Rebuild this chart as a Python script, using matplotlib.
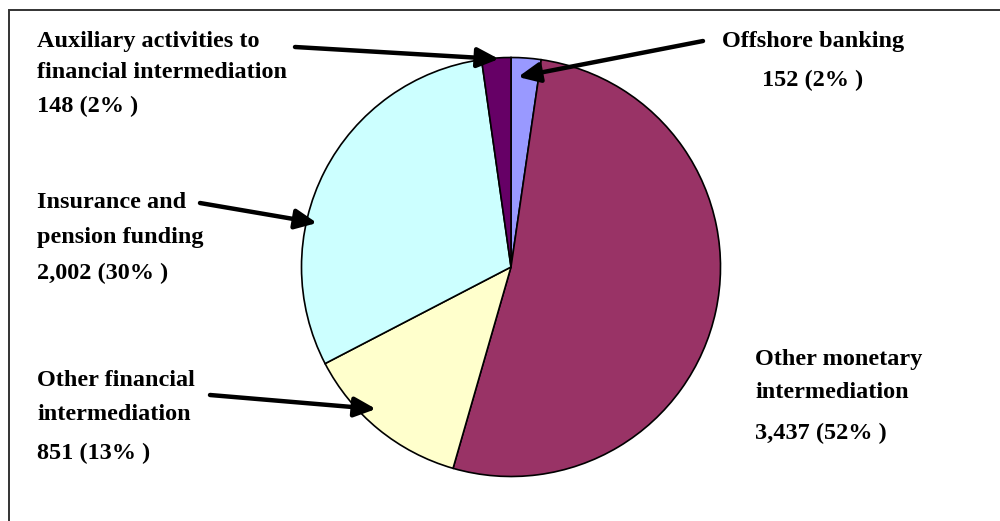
import matplotlib.pyplot as plt
from matplotlib.patches import Rectangle

# financial sector breakdown (clockwise from 12 o'clock)
sectors = ["Offshore banking", "Other monetary intermediation",
           "Other financial intermediation", "Insurance and pension funding",
           "Auxiliary activities to financial intermediation"]
values = [152, 3437, 851, 2002, 148]
colors = ["#9999FF", "#993366", "#FFFFCC", "#CCFFFF", "#660066"]

# label lines for each sector, last line gets the value + share
label_lines = [
    ["Offshore banking"],
    ["Other monetary", "intermediation"],
    ["Other financial", "intermediation"],
    ["Insurance and", "pension funding"],
    ["Auxiliary activities to", "financial intermediation"],
]

W, H = 1000, 521
fig = plt.figure(figsize=(10, 5.21), dpi=100)
ax = fig.add_axes([0, 0, 1, 1])
ax.set_xlim(0, W)
ax.set_ylim(0, H)
ax.set_aspect("equal")
ax.axis("off")

# work in pixel-like coords, y measured from the top
def py(y):
    return H - y

# frame runs off the right and bottom edges
ax.add_patch(Rectangle((9, -5), 1010, py(10) + 5, fill=False, ec="#333333", lw=1.4))

ax.pie(values, colors=colors, startangle=90, counterclock=False,
       center=(511, py(267)), radius=209.5,
       wedgeprops=dict(edgecolor="black", linewidth=1.2))
ax.set_xlim(0, W)
ax.set_ylim(0, H)

total = sum(values)
font = dict(family="Liberation Serif", fontweight="bold", fontsize=17.5, color="black")

def label_text(i):
    pct = round(values[i] / total * 100)
    return f"{values[i]:,} ({pct}% )"

# (x, [line y centers], alignment) per sector
layout = [
    (813, [42, 80], "center"),
    (755, [360, 393, 433], "left"),
    (37, [380, 414, 453], "left"),
    (37, [202, 238, 273], "left"),
    (37, [41, 73, 106], "left"),
]
for i, (x, ys, ha) in enumerate(layout):
    lines = label_lines[i] + [label_text(i)]
    for line, y in zip(lines, ys):
        ax.text(x, py(y), line, ha=ha, va="center", **font)

# pointer arrows: (tail, head)
arrows = [
    ((703, 41), (518, 77)),
    ((200, 203), (317, 223)),
    ((210, 395), (376, 409)),
    ((295, 47), (499, 59)),
]
for (x0, y0), (x1, y1) in arrows:
    ax.annotate("", xy=(x1, py(y1)), xytext=(x0, py(y0)),
                arrowprops=dict(arrowstyle="-|>,head_length=1.3,head_width=0.6",
                                lw=3.2, color="black", shrinkA=0, shrinkB=0))

fig.savefig("out.png", dpi=100)
